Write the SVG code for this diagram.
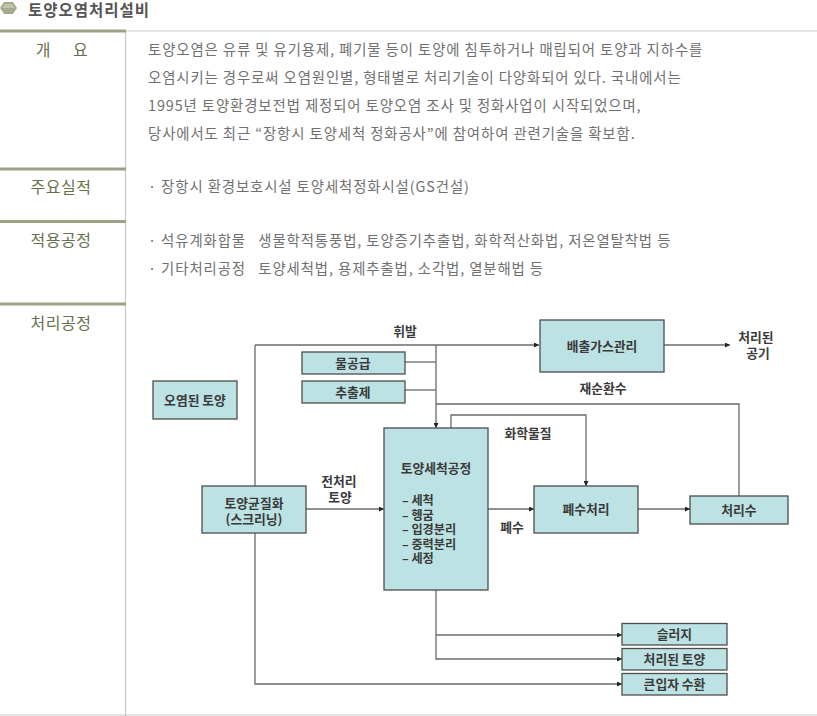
<svg xmlns="http://www.w3.org/2000/svg" width="817" height="716" viewBox="0 0 817 716">
<style>
.ttl{font-family:"Noto Sans CJK KR","Noto Sans",sans-serif;font-size:15.5px;font-weight:bold;fill:#555;letter-spacing:1px}
.lab{font-family:"Noto Sans CJK KR","Noto Sans",sans-serif;font-size:16px;fill:#66704b;text-anchor:middle;letter-spacing:0.5px}
.body{font-family:"Noto Sans CJK KR","Noto Sans",sans-serif;font-size:14.4px;fill:#707070;letter-spacing:0.9px}
.box{fill:#bde2e4;stroke:#4d4d4d;stroke-width:1.3}
.bt{font-family:"Noto Sans CJK KR","Noto Sans",sans-serif;font-size:12.8px;font-weight:bold;fill:#3a3a3a;text-anchor:middle}
.bl{font-family:"Noto Sans CJK KR","Noto Sans",sans-serif;font-size:12.2px;font-weight:bold;fill:#3a3a3a}
.con{fill:none;stroke:#6a6a6a;stroke-width:1.3}
.sep{stroke:#9ca384;stroke-width:3}
.grid{stroke:#c8c8c8;stroke-width:1.2;fill:none}
</style>
<defs>
<marker id="ah" viewBox="0 0 6 6" refX="6" refY="3" markerWidth="5" markerHeight="5" markerUnits="userSpaceOnUse" orient="auto">
<path d="M0,0 L6,3 L0,6 z" fill="#222"/>
</marker>
</defs>
<rect width="817" height="716" fill="#fff"/>
<g id="header">
<polygon points="0,8 4,2 13,2 17,8 13,14 4,14" fill="#a5ac8e"/>
<polygon points="2,8 5,4 12,4 15,8" fill="#bfc5ab"/>
<text class="ttl" x="28" y="16">토양오염처리설비</text>
</g>
<g id="table">
<line class="grid" x1="126" y1="31" x2="817" y2="31"/>
<line class="grid" x1="125.5" y1="31" x2="125.5" y2="716"/>
<line class="grid" x1="0" y1="715" x2="817" y2="715"/>
<line class="sep" x1="0" y1="31" x2="126" y2="31"/>
<line class="sep" x1="0" y1="169" x2="126" y2="169"/>
<line class="sep" x1="0" y1="221.5" x2="126" y2="221.5"/>
<line class="sep" x1="0" y1="304" x2="126" y2="304"/>
<text class="lab" x="62" y="56" word-spacing="18">개 요</text>
<text class="lab" x="61" y="193">주요실적</text>
<text class="lab" x="61" y="246">적용공정</text>
<text class="lab" x="61" y="329">처리공정</text>
<text class="body" x="148" y="55">토양오염은 유류 및 유기용제, 폐기물 등이 토양에 침투하거나 매립되어 토양과 지하수를</text>
<text class="body" x="148" y="83">오염시키는 경우로써 오염원인별, 형태별로 처리기술이 다양화되어 있다. 국내에서는</text>
<text class="body" x="148" y="111">1995년 토양환경보전법 제정되어 토양오염 조사 및 정화사업이 시작되었으며,</text>
<text class="body" x="148" y="139">당사에서도 최근 “장항시 토양세척 정화공사”에 참여하여 관련기술을 확보함.</text>
<text class="body" x="148" y="192">· 장항시 환경보호시설 토양세척정화시설(GS건설)</text>
<text class="body" x="148" y="246" xml:space="preserve">· 석유계화합물   생물학적통풍법, 토양증기추출법, 화학적산화법, 저온열탈착법 등</text>
<text class="body" x="148" y="274" xml:space="preserve">· 기타처리공정   토양세척법, 용제추출법, 소각법, 열분해법 등</text>
</g>
<g id="connectors">
<path class="con" d="M255,345 H539" marker-end="url(#ah)"/>
<path class="con" d="M255,345 V684 H622" marker-end="url(#ah)"/>
<path class="con" d="M436,345 V428" marker-end="url(#ah)"/>
<path class="con" d="M405,362 H436"/>
<path class="con" d="M405,390 H436"/>
<path class="con" d="M739,496 V404 H436"/>
<path class="con" d="M451,428 V415 H586 V486" marker-end="url(#ah)"/>
<path class="con" d="M664,345 H730" marker-end="url(#ah)"/>
<path class="con" d="M306,509 H384" marker-end="url(#ah)"/>
<path class="con" d="M488,509 H534" marker-end="url(#ah)"/>
<path class="con" d="M638,509 H690" marker-end="url(#ah)"/>
<path class="con" d="M436,590 V659 H622" marker-end="url(#ah)"/>
<path class="con" d="M436,635 H622" marker-end="url(#ah)"/>
<text class="bt" x="405" y="336">휘발</text>
<text class="bt" x="603" y="393">재순환수</text>
<text class="bt" x="528" y="438">화학물질</text>
<text class="bt" x="339" y="486">전처리</text>
<text class="bt" x="340" y="502">토양</text>
<text class="bt" x="512" y="532">폐수</text>
<text class="bt" x="756" y="342">처리된</text>
<text class="bt" x="758" y="358">공기</text>
</g>
<g id="n-water"><rect class="box" x="302" y="352" width="103" height="22"/><text class="bt" x="353" y="368">물공급</text></g>
<g id="n-extract"><rect class="box" x="302" y="381" width="103" height="22"/><text class="bt" x="353" y="397">추출제</text></g>
<g id="n-soil"><rect class="box" x="153" y="381" width="84" height="38"/><text class="bt" x="195" y="405">오염된 토양</text></g>
<g id="n-gas"><rect class="box" x="540" y="320" width="124" height="52"/><text class="bt" x="602" y="351">배출가스관리</text></g>
<g id="n-homog"><rect class="box" x="202" y="486" width="104" height="47"/><text class="bt" x="254" y="508">토양균질화</text><text class="bt" x="254" y="524">(스크리닝)</text></g>
<g id="n-wash"><rect class="box" x="384" y="428" width="104" height="162"/>
<text class="bt" x="436" y="473">토양세척공정</text>
<text class="bl" x="402" y="505">–  세척</text>
<text class="bl" x="402" y="519.5">–  헹굼</text>
<text class="bl" x="402" y="534">–  입경분리</text>
<text class="bl" x="402" y="548.5">–  중력분리</text>
<text class="bl" x="402" y="563">–  세정</text>
</g>
<g id="n-ww"><rect class="box" x="534" y="486" width="104" height="47"/><text class="bt" x="586" y="514">폐수처리</text></g>
<g id="n-tw"><rect class="box" x="690" y="496" width="98" height="28"/><text class="bt" x="739" y="515">처리수</text></g>
<g id="n-sludge"><rect class="box" x="622" y="623.5" width="105" height="21.5"/><text class="bt" x="674.5" y="639">슬러지</text></g>
<g id="n-tsoil"><rect class="box" x="622" y="648.5" width="105" height="21.5"/><text class="bt" x="674.5" y="664">처리된 토양</text></g>
<g id="n-coarse"><rect class="box" x="622" y="673.5" width="105" height="21.5"/><text class="bt" x="674.5" y="689">큰입자 수환</text></g>
</svg>
